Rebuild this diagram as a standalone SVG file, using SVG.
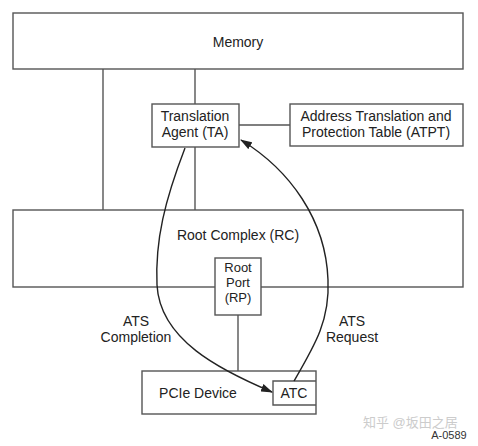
<svg xmlns="http://www.w3.org/2000/svg" width="478" height="446" viewBox="0 0 478 446">
<style>
.box{fill:#fff;stroke:#555;stroke-width:1.4}
.ln{fill:none;stroke:#555;stroke-width:1.4}
.arc{fill:none;stroke:#222;stroke-width:1.4}
text{font-family:"Liberation Sans",Arial,sans-serif;font-size:14px;fill:#222;text-anchor:middle}
.sm{font-size:13px}
.wm{font-family:"Liberation Sans","Noto Sans CJK SC",sans-serif;font-size:13px;fill:#ccc;text-anchor:start}
</style>
<defs>
<marker id="ah" viewBox="0 0 12 8" refX="11" refY="4" markerWidth="12" markerHeight="8" markerUnits="userSpaceOnUse" orient="auto">
<path d="M0,0 L12,4 L0,8 Z" fill="#222"/>
</marker>
</defs>
<g id="connectors">
<line class="ln" x1="103" y1="69" x2="103" y2="210"/>
<line class="ln" x1="195" y1="69" x2="195" y2="104"/>
<line class="ln" x1="195" y1="147" x2="195" y2="210"/>
<line class="ln" x1="239" y1="125" x2="290" y2="125"/>
<line class="ln" x1="238" y1="315" x2="238" y2="371"/>
</g>
<g id="memory"><rect class="box" x="13" y="13" width="450" height="56"/><text x="238" y="47">Memory</text></g>
<g id="rc"><rect class="box" x="13" y="210" width="450" height="77"/><text x="238" y="240">Root Complex (RC)</text></g>
<g id="ta"><rect class="box" x="152" y="104" width="87" height="43"/><text x="195" y="121">Translation</text><text x="195" y="137">Agent (TA)</text></g>
<g id="atpt"><rect class="box" x="290" y="104" width="173" height="42"/><text x="376" y="121">Address Translation and</text><text x="376" y="137">Protection Table (ATPT)</text></g>
<g id="rp"><rect class="box" x="215" y="258" width="46" height="57"/><text class="sm" x="238" y="272">Root</text><text class="sm" x="238" y="287">Port</text><text class="sm" x="238" y="302">(RP)</text></g>
<g id="pcie"><rect class="box" x="142" y="371" width="174" height="43"/><text x="198" y="398">PCIe Device</text></g>
<g id="atc"><path class="ln" d="M316,381 H273 V405 H316"/><text x="294" y="398">ATC</text></g>
<g id="arcs">
<path class="arc" d="M185,148 C165,200 155,240 157,285 C160,340 220,370 272,392" marker-end="url(#ah)"/>
<path class="arc" d="M294,381 C315,345 330,320 328,280 C326,220 290,170 241,140" marker-end="url(#ah)"/>
</g>
<g id="labels">
<text x="136" y="326">ATS</text><text x="136" y="342">Completion</text>
<text x="352" y="326">ATS</text><text x="352" y="342">Request</text>
</g>
<text class="wm" x="363" y="427">知乎 @坂田之居</text>
<text x="449" y="439" style="font-size:11px;fill:#333">A-0589</text>
</svg>
